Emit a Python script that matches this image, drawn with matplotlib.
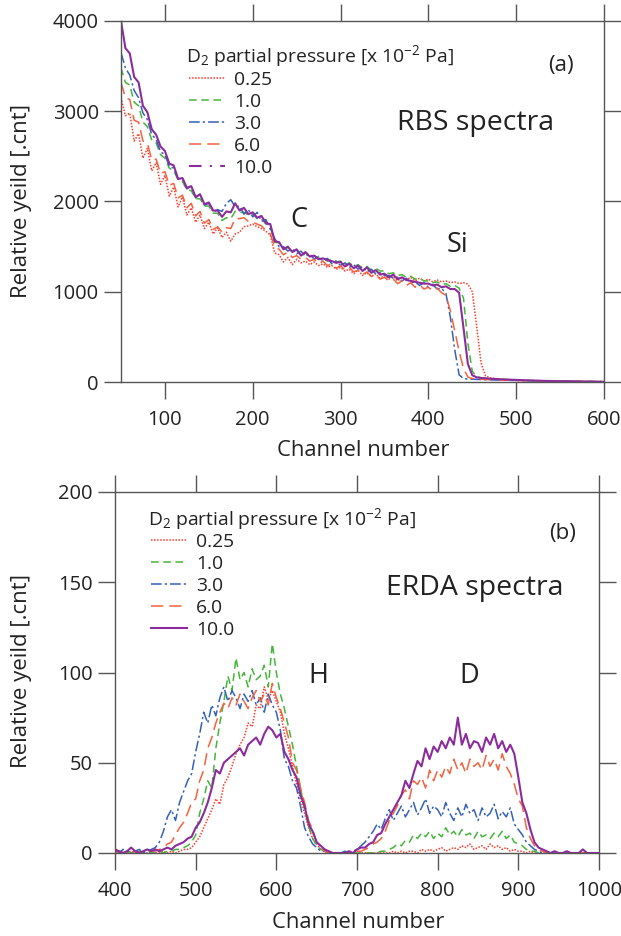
import numpy as np
import matplotlib
matplotlib.use("Agg")
import matplotlib.pyplot as plt

plt.rcParams['font.family'] = ['Open Sans', 'DejaVu Sans']
plt.rcParams['mathtext.default'] = 'regular'

# ---------------- data ----------------
pressures = ["0.25", "1.0", "3.0", "6.0", "10.0"]
legend_title = "D$_2$ partial pressure [x 10$^{-2}$ Pa]"

rbs_channels = np.arange(50, 601, 5)
rbs_025 = [3150, 2950, 2980, 2670, 2750, 2480, 2590, 2340, 2430, 2190,
           2290, 2060, 2160, 1940, 2050, 1850, 1930, 1770, 1850, 1700,
           1770, 1640, 1710, 1600, 1660, 1560, 1640, 1660, 1720, 1730,
           1750, 1720, 1700, 1670, 1630, 1430, 1410, 1330, 1380, 1300,
           1360, 1320, 1340, 1300, 1330, 1290, 1310, 1270, 1290, 1250,
           1270, 1230, 1250, 1200, 1240, 1180, 1210, 1170, 1200, 1150,
           1180, 1140, 1170, 1120, 1160, 1130, 1160, 1120, 1150, 1120,
           1140, 1110, 1130, 1110, 1120, 1100, 1110, 1090, 1100, 1085,
           1000, 620, 210, 70, 45, 38, 34, 30, 27, 25,
           23, 21, 19, 18, 16, 15, 14, 12, 11, 10,
           9, 9, 8, 7, 7, 6, 5, 5, 4, 4,
           3]
rbs_10 = [3480, 3320, 3290, 3100, 3060, 2880, 2830, 2680, 2650, 2520,
          2480, 2370, 2340, 2240, 2220, 2130, 2120, 2030, 2030, 1950,
          1950, 1870, 1870, 1790, 1820, 1810, 1890, 1880, 1880, 1850,
          1860, 1810, 1810, 1750, 1720, 1550, 1540, 1480, 1490, 1450,
          1460, 1410, 1430, 1400, 1400, 1370, 1380, 1340, 1360, 1330,
          1340, 1300, 1320, 1280, 1300, 1260, 1280, 1240, 1260, 1230,
          1230, 1200, 1210, 1180, 1190, 1160, 1170, 1140, 1150, 1120,
          1120, 1100, 1110, 1080, 1090, 1060, 1070, 1040, 930, 430,
          120, 62, 47, 42, 38, 34, 31, 29, 26, 24,
          22, 20, 19, 17, 16, 14, 13, 12, 11, 10,
          9, 8, 8, 7, 6, 6, 5, 5, 4, 4,
          3]
rbs_30 = [3650, 3480, 3400, 3230, 3150, 2980, 2910, 2740, 2690, 2550,
          2520, 2390, 2370, 2250, 2260, 2140, 2170, 2040, 2080, 1960,
          1980, 1880, 1910, 1890, 1980, 2020, 1940, 1950, 1860, 1910,
          1830, 1880, 1780, 1800, 1690, 1590, 1500, 1500, 1450, 1480,
          1420, 1450, 1390, 1420, 1360, 1390, 1340, 1370, 1310, 1340,
          1290, 1320, 1270, 1300, 1250, 1280, 1220, 1250, 1200, 1210,
          1180, 1180, 1150, 1160, 1120, 1150, 1100, 1110, 1070, 1100,
          1050, 1080, 1030, 1040, 980, 720, 360, 80, 38, 33,
          31, 29, 27, 25, 24, 22, 21, 20, 19, 18,
          17, 16, 15, 14, 13, 12, 11, 10, 9, 9,
          8, 8, 7, 6, 6, 5, 5, 4, 4, 3,
          3]
rbs_60 = [3320, 3150, 3130, 2900, 2880, 2670, 2650, 2460, 2470, 2310,
          2330, 2180, 2200, 2040, 2070, 1930, 1980, 1840, 1890, 1760,
          1800, 1690, 1720, 1660, 1710, 1700, 1810, 1810, 1820, 1780,
          1770, 1750, 1730, 1680, 1640, 1500, 1470, 1410, 1440, 1380,
          1400, 1360, 1380, 1340, 1360, 1310, 1340, 1290, 1310, 1260,
          1290, 1240, 1270, 1220, 1240, 1190, 1220, 1170, 1190, 1140,
          1160, 1120, 1140, 1090, 1120, 1070, 1100, 1050, 1080, 1030,
          1050, 1010, 1040, 990, 960, 790, 570, 340, 150, 55,
          38, 34, 31, 28, 26, 24, 22, 21, 20, 19,
          17, 16, 15, 14, 13, 12, 11, 10, 9, 9,
          8, 8, 7, 6, 6, 5, 5, 4, 4, 3,
          3]
rbs_100 = [4000, 3700, 3640, 3380, 3320, 3060, 2990, 2800, 2740, 2610,
           2560, 2420, 2400, 2250, 2260, 2150, 2170, 2050, 2080, 1970,
           1990, 1900, 1900, 1830, 1890, 1880, 1980, 1900, 1930, 1860,
           1880, 1820, 1840, 1760, 1750, 1560, 1550, 1470, 1500, 1440,
           1470, 1400, 1440, 1390, 1400, 1360, 1370, 1350, 1340, 1320,
           1330, 1280, 1310, 1260, 1290, 1230, 1270, 1210, 1240, 1190,
           1200, 1160, 1190, 1140, 1160, 1130, 1120, 1110, 1100, 1090,
           1090, 1070, 1080, 1050, 1060, 1030, 1030, 990, 600, 200,
           75, 52, 44, 41, 37, 35, 31, 29, 27, 25,
           23, 21, 19, 17, 16, 15, 13, 12, 11, 10,
           9, 9, 8, 7, 7, 6, 5, 5, 4, 4,
           3]

erda_channels = np.arange(400, 1001, 5)
erda_025 = [0, 1, 0, 0, 1, 0, 0, 1, 0, 0,
            0, 0, 1, 0, 1, 0, 1, 2, 2, 3,
            6, 9, 14, 19, 24, 30, 27, 38, 42, 48,
            55, 60, 64, 72, 70, 82, 80, 92, 85, 90,
            84, 78, 66, 58, 48, 38, 30, 22, 14, 8,
            5, 2, 1, 0, 0, 0, 0, 0, 0, 0,
            0, 0, 0, 0, 0, 0, 0, 0, 0, 1,
            0, 1, 0, 1, 1, 0, 2, 1, 2, 1,
            2, 3, 1, 2, 3, 2, 4, 3, 5, 2,
            3, 4, 2, 5, 3, 4, 2, 3, 1, 2,
            1, 1, 0, 1, 0, 0, 0, 0, 0, 0,
            0, 0, 0, 0, 0, 0, 0, 0, 0, 0,
            0]
erda_10 = [0, 1, 0, 1, 0, 0, 1, 0, 1, 0,
           0, 1, 0, 1, 1, 2, 2, 3, 4, 6,
           10, 22, 30, 40, 36, 58, 72, 84, 98, 90,
           108, 96, 100, 92, 102, 96, 98, 104, 92, 116,
           100, 88, 80, 70, 60, 48, 36, 24, 15, 8,
           4, 2, 1, 0, 0, 0, 0, 0, 0, 0,
           0, 0, 0, 0, 0, 0, 1, 1, 2, 3,
           5, 4, 7, 6, 10, 8, 11, 9, 12, 8,
           11, 9, 14, 10, 12, 9, 13, 10, 11, 8,
           12, 9, 10, 8, 11, 9, 12, 8, 10, 6,
           5, 4, 2, 1, 1, 0, 0, 0, 0, 0,
           0, 0, 0, 0, 0, 0, 0, 0, 0, 0,
           0]
erda_30 = [1, 0, 2, 1, 0, 1, 2, 0, 1, 2,
           3, 6, 12, 20, 24, 18, 28, 34, 40, 44,
           56, 66, 78, 72, 82, 76, 86, 92, 84, 90,
           86, 80, 88, 84, 90, 82, 86, 78, 88, 82,
           78, 68, 52, 48, 40, 36, 26, 14, 9, 5,
           3, 1, 1, 0, 0, 0, 0, 1, 0, 1,
           2, 4, 6, 9, 12, 16, 13, 19, 24, 18,
           22, 26, 20, 24, 28, 21, 25, 30, 22, 26,
           24, 20, 28, 22, 18, 25, 20, 27, 22, 24,
           18, 25, 20, 22, 27, 19, 23, 20, 25, 16,
           13, 10, 6, 4, 2, 1, 0, 0, 0, 0,
           0, 0, 0, 0, 0, 0, 0, 0, 0, 0,
           0]
erda_60 = [0, 1, 0, 1, 0, 1, 0, 0, 1, 1,
           1, 2, 3, 5, 6, 10, 14, 17, 22, 28,
           30, 40, 46, 58, 64, 72, 78, 83, 80, 86,
           82, 88, 84, 80, 86, 90, 84, 88, 82, 94,
           86, 80, 72, 64, 50, 46, 36, 28, 18, 13,
           6, 3, 1, 0, 0, 0, 0, 0, 0, 1,
           1, 1, 2, 3, 5, 6, 8, 12, 18, 22,
           26, 32, 35, 30, 40, 38, 42, 36, 46, 40,
           46, 42, 48, 44, 52, 46, 50, 44, 52, 48,
           50, 46, 54, 48, 52, 46, 55, 48, 44, 38,
           30, 26, 14, 8, 4, 2, 1, 0, 0, 0,
           0, 0, 0, 0, 0, 0, 0, 0, 0, 0,
           0]
erda_100 = [2, 1, 0, 1, 3, 1, 0, 1, 2, 1,
            2, 1, 2, 3, 2, 4, 5, 6, 8, 9,
            14, 17, 22, 28, 36, 46, 44, 50, 52, 54,
            56, 58, 54, 60, 62, 64, 60, 66, 70, 68,
            64, 66, 56, 52, 46, 42, 32, 26, 16, 12,
            6, 4, 2, 1, 0, 0, 0, 0, 1, 0,
            2, 3, 3, 5, 6, 10, 11, 16, 20, 24,
            28, 32, 40, 36, 44, 51, 48, 58, 52, 59,
            56, 62, 58, 64, 60, 75, 60, 66, 58, 62,
            61, 56, 64, 60, 66, 58, 62, 56, 60, 55,
            42, 28, 22, 13, 6, 3, 2, 1, 0, 1,
            0, 0, 1, 0, 0, 0, 2, 0, 0, 0,
            0]

rbs_series = [rbs_025, rbs_10, rbs_30, rbs_60, rbs_100]
erda_series = [erda_025, erda_10, erda_30, erda_60, erda_100]

colors = ['#ff3b2b', '#45b53a', '#3461b8', '#f4623e', '#8c2c9c']
styles = [(0, (1, 1)), (0, (5, 3)), (0, (7, 2, 1.5, 2)), (0, (8, 4)), '-']
widths = [1.1, 1.1, 1.1, 1.1, 1.5]

W, H = 621, 936
fig = plt.figure(figsize=(W / 100, H / 100), dpi=100)

def px_ax(l, t, r, b):
    return fig.add_axes([l / W, 1 - b / H, (r - l) / W, (b - t) / H])

ax1 = px_ax(121, 21, 604, 382)
ax2 = px_ax(115, 492, 599, 853)

tc = '#222222'
sc = '#555555'

def style_axes(ax):
    for s in ax.spines.values():
        s.set_color(sc)
        s.set_linewidth(1.0)
    ax.tick_params(direction='out', length=12, width=1.0, color=sc,
                   top=True, right=True, labelsize=14.5, labelcolor=tc)
    ax.tick_params(axis='x', pad=8)
    ax.tick_params(axis='y', pad=4)

for vals, c, ls, lw, lab in zip(rbs_series, colors, styles, widths, pressures):
    ax1.plot(rbs_channels, vals, color=c, linestyle=ls, linewidth=lw, label=lab)
ax1.set_xlim(50, 600)
ax1.set_ylim(0, 4000)
ax1.set_xticks([100, 200, 300, 400, 500, 600])
ax1.set_yticks([0, 1000, 2000, 3000, 4000])
style_axes(ax1)

for vals, c, ls, lw, lab in zip(erda_series, colors, styles, widths, pressures):
    ax2.plot(erda_channels, vals, color=c, linestyle=ls, linewidth=lw, label=lab)
ax2.set_xlim(400, 1000)
ax2.set_ylim(0, 200)
ax2.set_xticks([400, 500, 600, 700, 800, 900, 1000])
ax2.set_yticks([0, 50, 100, 150, 200])
style_axes(ax2)

LF = 13.9

def add_legend(ax, ax_l, ax_t, x_px, top_px):
    ax_w = 483 if ax is ax1 else 484
    leg = ax.legend(loc='upper left',
                    bbox_to_anchor=((x_px - ax_l) / ax_w, 1 - (top_px - ax_t) / 361),
                    frameon=False, fontsize=LF,
                    handlelength=1.85, handletextpad=0.5,
                    labelspacing=0.21, borderpad=0, borderaxespad=0)
    for t in leg.get_texts():
        t.set_color(tc)
    return leg

leg1 = add_legend(ax1, 121, 21, 189, 71)
leg1.get_lines()[4].set_linestyle((0, (6, 4, 1, 4)))
leg2 = add_legend(ax2, 115, 492, 151, 533)

def ftext(x, y, s, size, **kw):
    fig.text(x / W, 1 - y / H, s, fontsize=size, color=tc,
             ha=kw.pop('ha', 'center'), va=kw.pop('va', 'center'), **kw)

ftext(186, 53, legend_title, LF, ha='left', va='center_baseline')
ftext(561, 65, "(a)", 16)
ftext(476, 123, "RBS spectra", 20.5)
ftext(299, 220, "C", 19.5)
ftext(457, 245, "Si", 19.5)
ftext(22, 201, "Relative yeild [.cnt]", 16, rotation=90)
ftext(363, 450, "Channel number", 15.8)

ftext(148, 516, legend_title, LF, ha='left', va='center_baseline')
ftext(563, 533, "(b)", 16)
ftext(475, 588, "ERDA spectra", 20.5)
ftext(318, 676, "H", 19.5)
ftext(469, 676, "D", 19.5)
ftext(22, 671, "Relative yeild [.cnt]", 16, rotation=90)
ftext(358, 923, "Channel number", 15.8)

fig.savefig("out.png", dpi=100)
